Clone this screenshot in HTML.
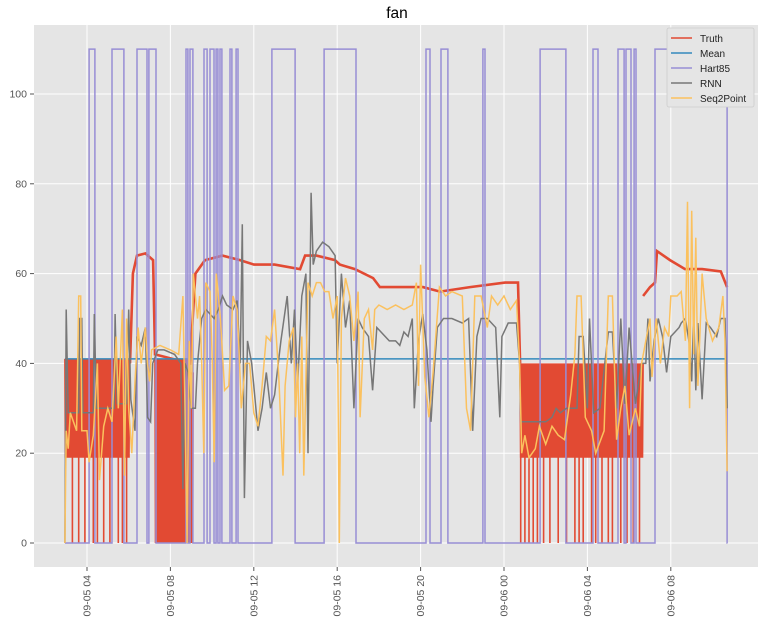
<!DOCTYPE html>
<html><head><meta charset="utf-8"><style>
body{margin:0;background:#fff;font-family:"Liberation Sans",sans-serif}
svg text{font-family:"Liberation Sans",sans-serif}
</style></head><body>
<svg id="chart" width="765" height="627">
<text x="397" y="18" text-anchor="middle" font-size="15.5" fill="#000">fan</text>
<rect x="34" y="25" width="724" height="542" fill="#e5e5e5"/>
<g id="grid"></g><g id="series"></g><g id="axes"></g>
<g>
<rect x="667" y="28" width="87" height="79" fill="#e5e5e5" stroke="#ccc" stroke-width="0.8" rx="2"/>
<g><line x1="671" y1="38" x2="692" y2="38" stroke="#E24A33" stroke-width="1.5"/><text x="700" y="42" font-size="10" fill="#222">Truth</text></g>
<g><line x1="671" y1="53" x2="692" y2="53" stroke="#348ABD" stroke-width="1.5"/><text x="700" y="57" font-size="10" fill="#222">Mean</text></g>
<g><line x1="671" y1="68" x2="692" y2="68" stroke="#988ED5" stroke-width="1.5"/><text x="700" y="72" font-size="10" fill="#222">Hart85</text></g>
<g><line x1="671" y1="83" x2="692" y2="83" stroke="#777777" stroke-width="1.5"/><text x="700" y="87" font-size="10" fill="#222">RNN</text></g>
<g><line x1="671" y1="98" x2="692" y2="98" stroke="#FBC15E" stroke-width="1.5"/><text x="700" y="102" font-size="10" fill="#222">Seq2Point</text></g>
</g>
</svg>
<script>
const yTicks=[0,20,40,60,80,100];
const xTickHours=[4,8,12,16,20,24,28,32];
const xTickLabels=["09-05 04","09-05 08","09-05 12","09-05 16","09-05 20","09-06 00","09-06 04","09-06 08"];
const meanLevel=41, meanStart=2.94, meanEnd=34.7;
const hartOn=[[4.10,4.38],[5.20,5.77],[6.40,6.88],[6.97,7.31],[8.75,8.84],[8.94,9.08],[9.61,9.76],[9.90,10.09],[10.19,10.28],[10.38,10.47],[10.86,10.95],[11.15,11.24],[12.87,13.98],[15.37,16.90],[20.26,20.45],[20.98,21.31],[22.99,23.09],[25.73,26.97],[28.27,28.51],[29.47,29.76],[29.85,30.09],[30.24,30.33],[31.24,34.70]];
const hartHigh=110, hartStart=2.94, hartEnd=34.72;
const truthSmooth=[[6.06,40],[6.2,60],[6.40,64],[6.8,64.5],[7.17,63],[7.26,42],[8.94,40],[9.2,60],[9.66,63],[10.5,64],[11.34,63],[12.01,62],[13.0,62],[14.22,61],[14.46,64],[15.0,64],[15.89,63],[16.13,62],[16.85,61],[17.72,59],[18.05,57],[19.0,57],[20.11,57],[20.93,56],[22.37,57],[24.05,58],[24.67,58],[24.77,40]];
const truthSmooth2=[[30.67,55],[31.0,57],[31.24,58],[31.34,65],[31.96,63],[32.68,61],[33.5,61],[34.4,60.5],[34.70,57]];
const truthBands=[[2.94,6.06,19,41],[7.26,8.84,0,41],[8.84,9.1,0,38],[24.77,30.67,19,40]];
const truthDrops=[3.3,3.6,3.9,4.3,4.5,4.8,5.1,5.5,5.7,5.9,24.8,25.0,25.2,25.4,25.6,25.9,26.2,26.6,27.0,27.4,27.6,27.8,28.2,28.4,28.7,29.0,29.2,29.6,29.9,30.2,30.5];
const rnnT=[2.94,3.0,3.1,3.6,3.65,3.75,3.8,4.3,4.35,4.45,5.3,5.35,5.45,5.9,6.0,6.1,6.3,6.4,6.6,6.8,6.9,7.05,7.15,7.4,7.7,8.2,8.5,8.6,8.7,8.85,9.0,9.2,9.3,9.5,9.7,9.9,10.1,10.3,10.5,10.7,11.0,11.2,11.35,11.45,11.55,11.7,11.9,12.2,12.4,12.6,12.8,13.0,13.3,13.6,13.8,13.95,14.1,14.3,14.5,14.6,14.75,14.85,15.0,15.3,15.6,15.9,16.0,16.2,16.4,16.6,16.8,17.0,17.2,17.5,17.7,17.9,18.1,18.5,18.8,19.0,19.2,19.4,19.6,19.7,19.9,20.1,20.3,20.5,20.6,20.8,21.1,21.5,22.0,22.3,22.5,22.7,22.9,23.2,23.6,23.8,23.9,24.2,24.6,24.75,24.8,25.5,26.0,26.3,26.5,26.7,27.0,27.5,27.6,27.8,28.0,28.1,28.3,28.6,29.0,29.2,29.4,29.6,29.8,30.0,30.3,30.6,30.8,30.9,31.0,31.2,31.4,31.6,31.8,32.0,32.2,32.4,32.5,32.7,32.9,33.0,33.1,33.2,33.3,33.5,33.7,33.9,34.2,34.4,34.6,34.7];
const rnnV=[0,52,29,29,50,50,29,29,51,30,30,51,31,31,52,32,25,46,44,48,28,27,40,43,43,42,40,12,40,38,30,30,40,50,52,51,50,52,55,53,52,54,40,71,10,45,40,25,30,38,30,33,45,55,40,52,35,55,60,20,78,62,65,67,66,64,40,60,48,54,30,50,48,46,34,48,47,45,45,44,47,46,50,30,45,51,43,27,35,48,50,50,49,50,25,46,50,50,48,28,46,49,49,40,27,27,27,28,30,29,30,30,46,46,30,50,29,30,47,47,30,50,31,48,31,40,40,50,36,45,50,46,38,46,47,48,49,50,44,36,52,34,49,32,49,48,46,50,50,30];
const seqT=[2.94,3.0,3.1,3.2,3.5,3.6,3.7,3.75,4.0,4.1,4.3,4.5,4.6,4.8,5.0,5.2,5.4,5.5,5.7,5.8,5.9,6.0,6.15,6.3,6.45,6.6,6.8,6.9,7.0,7.1,7.5,8.0,8.4,8.6,8.7,8.8,8.9,9.0,9.1,9.3,9.4,9.5,9.6,9.7,9.9,10.0,10.1,10.2,10.4,10.6,10.8,11.0,11.2,11.3,11.4,11.6,11.8,12.0,12.2,12.4,12.6,12.8,13.0,13.2,13.4,13.5,13.7,13.9,14.0,14.1,14.2,14.3,14.4,14.6,14.8,15.0,15.2,15.4,15.6,15.8,16.0,16.1,16.2,16.4,16.6,16.8,17.0,17.1,17.3,17.5,17.7,17.8,18.0,18.4,18.8,19.2,19.6,19.8,19.9,20.0,20.2,20.4,20.6,20.9,21.2,21.5,22.0,22.2,22.4,22.6,22.9,23.2,23.4,23.7,24.0,24.3,24.6,24.75,24.85,25.0,25.2,25.5,25.7,26.0,26.3,26.6,26.9,27.2,27.4,27.5,27.7,27.9,28.2,28.4,28.8,29.0,29.2,29.4,29.6,29.8,30.0,30.3,30.5,30.6,30.8,31.0,31.1,31.3,31.5,31.7,31.9,32.0,32.3,32.5,32.7,32.8,32.9,33.0,33.1,33.2,33.3,33.4,33.5,33.7,34.0,34.3,34.5,34.6,34.7];
const seqV=[0,25,21,29,25,55,55,25,25,18,24,40,14,26,30,27,46,30,52,15,50,30,20,36,48,40,48,40,36,43,44,43,42,55,30,0,45,30,60,50,55,40,20,58,56,42,18,60,50,34,35,55,52,42,30,40,40,29,26,35,46,45,52,37,15,35,45,48,28,40,20,46,15,58,55,58,58,56,56,50,55,0,50,59,55,45,56,28,50,52,43,52,53,52,53,52,53,58,35,62,37,28,38,57,55,56,55,30,25,55,55,48,55,53,55,52,54,40,20,24,19,21,26,22,26,24,23,33,42,55,55,28,25,20,25,55,55,23,30,35,24,30,26,40,45,50,37,50,40,48,46,55,55,56,45,76,30,74,42,68,35,47,60,50,45,48,55,45,16];

const NS="http://www.w3.org/2000/svg";
const X0=34,X1=758,Y0=25,Y1=567;
function xs(t){return 87+(t-4)*20.85;}
function ys(v){return 543-v*4.49;}
const grid=document.getElementById('grid'),ser=document.getElementById('series'),axes=document.getElementById('axes');
function mk(tag,attrs,parent){const e=document.createElementNS(NS,tag);for(const k in attrs)e.setAttribute(k,attrs[k]);parent.appendChild(e);return e;}
yTicks.forEach(v=>{
  const l=mk('line',{x1:X0,x2:X1,y1:ys(v),y2:ys(v),stroke:'#fff','stroke-width':1},grid);
  
  
  const tk=mk('line',{x1:X0-4,x2:X0,y1:ys(v),y2:ys(v),stroke:'#555'},axes);
  
  
  const t=mk('text',{x:X0-7,y:ys(v)+3.5,'text-anchor':'end','font-size':10.5,fill:'#555'},axes);
  t.textContent=v;
  
  
});
xTickHours.forEach((h,i)=>{
  const x=xs(h);
  const l=mk('line',{x1:x,x2:x,y1:Y0,y2:Y1,stroke:'#fff','stroke-width':1},grid);
  
  
  const tk=mk('line',{x1:x,x2:x,y1:Y1,y2:Y1+4,stroke:'#555'},axes);
  
  
  const t=mk('text',{x:x+3.5,y:Y1+8,'text-anchor':'end','font-size':10.5,fill:'#555',transform:`rotate(-90 ${x+3.5} ${Y1+8})`},axes);
  t.textContent=xTickLabels[i];
  
  
});
let d='';
truthBands.forEach(b=>{
  let hi=true;
  for(let t=b[0];t<=b[1];t+=0.025){d+=(d&&t>b[0]?'L':'M')+xs(t).toFixed(1)+' '+ys(hi?b[3]:b[2]).toFixed(1)+' ';hi=!hi;}
});
truthDrops.forEach(t=>{d+='M'+xs(t).toFixed(1)+' '+ys(20)+' L'+xs(t).toFixed(1)+' '+ys(0)+' ';});
const truth=mk('path',{d:d,fill:'none',stroke:'#E24A33','stroke-width':1.6},ser);


let d2='M'+truthSmooth.map(p=>xs(p[0]).toFixed(1)+' '+ys(p[1]).toFixed(1)).join(' L');
d2+=' M'+truthSmooth2.map(p=>xs(p[0]).toFixed(1)+' '+ys(p[1]).toFixed(1)).join(' L');
const truth2=mk('path',{d:d2,fill:'none',stroke:'#E24A33','stroke-width':2.6},ser);


const mean=mk('line',{x1:xs(meanStart),x2:xs(meanEnd),y1:ys(meanLevel),y2:ys(meanLevel),stroke:'#348ABD','stroke-width':1.5},ser);


let hd='M'+xs(hartStart)+' '+ys(0);
hartOn.forEach(s=>{hd+=' L'+xs(s[0]).toFixed(1)+' '+ys(0)+' L'+xs(s[0]).toFixed(1)+' '+ys(hartHigh)+' L'+xs(s[1]).toFixed(1)+' '+ys(hartHigh)+' L'+xs(s[1]).toFixed(1)+' '+ys(0);});
hd+=' L'+xs(hartEnd)+' '+ys(0);
const hart=mk('path',{d:hd,fill:'none',stroke:'#988ED5','stroke-width':1.5},ser);


const rnn=mk('path',{d:'M'+rnnT.map((t,i)=>xs(t).toFixed(1)+' '+ys(rnnV[i]).toFixed(1)).join(' L'),fill:'none',stroke:'#777777','stroke-width':1.5},ser);


const seq=mk('path',{d:'M'+seqT.map((t,i)=>xs(t).toFixed(1)+' '+ys(seqV[i]).toFixed(1)).join(' L'),fill:'none',stroke:'#FBC15E','stroke-width':1.5},ser);


</script>
</body></html>
